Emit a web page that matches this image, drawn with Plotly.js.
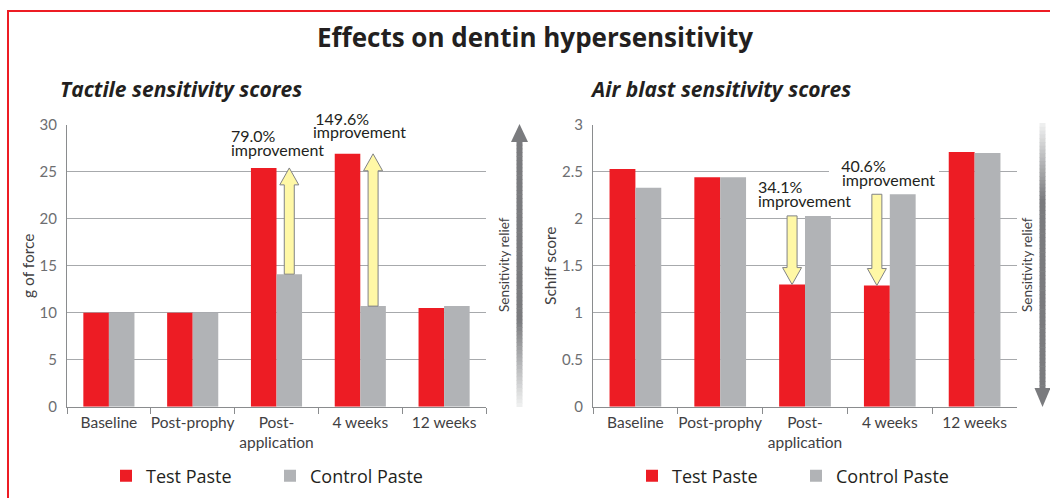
<!DOCTYPE html>
<html><head><meta charset="utf-8">
<script src="https://cdn.plot.ly/plotly-3.0.1.min.js"></script>
<style>html,body{margin:0;padding:0;background:#fff}#chart{width:1050px;height:498px}</style>
</head><body><div id="chart"></div>
<script>
// ---- data ----
const categories = ['Baseline', 'Post-prophy', 'Post-<br>application', '4 weeks', '12 weeks'];
const tactileTest = [10, 10, 25.4, 26.9, 10.5];
const tactileControl = [10, 10, 14.1, 10.7, 10.7];
const airTest = [2.53, 2.44, 1.30, 1.29, 2.71];
const airControl = [2.33, 2.44, 2.03, 2.26, 2.70];
const improvedIdx = [2, 3];
const tactileImprovement = ['79.0%', '149.6%'];
const airImprovement = ['34.1%', '40.6%'];
const tactileTicks = [0, 5, 10, 15, 20, 25, 30];
const airTicks = [0, 0.5, 1, 1.5, 2, 2.5, 3];
const seriesNames = ['Test Paste', 'Control Paste'];

// ---- style ----
const W = 1050, H = 498;
const px = x => x / W;
const py = y => 1 - y / H;
const RED = '#ED1C24', GRAY = '#B1B3B6', DARK = '#231F20';
const FONT = 'Lato, "Open Sans", sans-serif';
const WIDE = '"Open Sans", Lato, sans-serif';
const BARGAP = 0.39;
const barOff = (1 - BARGAP) / 4;
const L = [67, 486], R = [593, 1017], TOP = 124.7, BOT = 406.7;

const traces = [
  {type: 'bar', x: categories, y: tactileTest, name: seriesNames[0], marker: {color: RED}, xaxis: 'x', yaxis: 'y', legend: 'legend', hoverinfo: 'y'},
  {type: 'bar', x: categories, y: tactileControl, name: seriesNames[1], marker: {color: GRAY}, xaxis: 'x', yaxis: 'y', legend: 'legend', hoverinfo: 'y'},
  {type: 'bar', x: categories, y: airTest, name: seriesNames[0], marker: {color: RED}, xaxis: 'x2', yaxis: 'y2', legend: 'legend2', hoverinfo: 'y'},
  {type: 'bar', x: categories, y: airControl, name: seriesNames[1], marker: {color: GRAY}, xaxis: 'x2', yaxis: 'y2', legend: 'legend2', hoverinfo: 'y'}
];

const xCommon = {
  type: 'category', showgrid: false, showline: true, linecolor: '#8A8C8E', linewidth: 1,
  ticks: 'outside', tickson: 'boundaries', ticklen: 6, tickcolor: '#8A8C8E', tickangle: 0,
  ticklabelstandoff: 2,
  tickfont: {family: FONT, size: 15.5, color: '#414042'}, fixedrange: true, zeroline: false
};
const yCommon = {
  showgrid: true, gridcolor: '#A7A9AC', gridwidth: 1.3, showline: true, linecolor: '#8A8C8E', linewidth: 1,
  ticks: '', zeroline: false, tickfont: {family: FONT, size: 15, color: '#6D6E71'},
  ticklabelstandoff: 6, fixedrange: true
};
const yDom = [py(BOT), py(TOP)];

const shapes = [];
// red frame
shapes.push({type: 'rect', xref: 'paper', yref: 'paper', x0: px(8), y0: py(11), x1: 1.05, y1: -0.05,
  line: {color: RED, width: 2}, fillcolor: 'rgba(0,0,0,0)'});

// improvement arrows (yellow)
improvedIdx.forEach(i => {
  const b = tactileControl[i], t = tactileTest[i], hb = t - 1.8;
  shapes.push({type: 'path', xref: 'x', yref: 'y', xsizemode: 'pixel', xanchor: i + barOff,
    path: `M-5,${b} L5,${b} L5,${hb} L9.5,${hb} L0,${t} L-9.5,${hb} L-5,${hb} Z`,
    fillcolor: '#FFF8A6', line: {color: '#808285', width: 1}, layer: 'above'});
  const b2 = airControl[i], t2 = airTest[i], hb2 = t2 + 0.18;
  shapes.push({type: 'path', xref: 'x2', yref: 'y2', xsizemode: 'pixel', xanchor: i - barOff,
    path: `M-5,${b2} L5,${b2} L5,${hb2} L9.5,${hb2} L0,${t2} L-9.5,${hb2} L-5,${hb2} Z`,
    fillcolor: '#FFF8A6', line: {color: '#808285', width: 1}, layer: 'above'});
});

// gradient "sensitivity relief" arrows
function hex(c){return [parseInt(c.slice(1,3),16),parseInt(c.slice(3,5),16),parseInt(c.slice(5,7),16)];}
function mix(a, b, t){const A=hex(a),B=hex(b);return 'rgb('+A.map((v,k)=>Math.round(v+(B[k]-v)*t)).join(',')+')';}
function gradShaft(xc, y0, y1, colorAt){
  const n = 70, step = (y1 - y0) / n;
  for(let k = 0; k < n; k++){
    const ya = y0 + k * step, yb = ya + step + 0.6;
    shapes.push({type: 'rect', xref: 'paper', yref: 'paper', x0: px(xc - 3), x1: px(xc + 3),
      y0: py(ya), y1: py(Math.min(yb, y1)), fillcolor: colorAt(ya + step / 2), line: {width: 0}});
  }
}
const ARR = '#7A7B7E', LIGHT = '#F1F2F2';
// left (up)
gradShaft(519.5, 141, 407, y => y < 320 ? ARR : mix(ARR, LIGHT, Math.min(1, (y - 320) / 87)));
shapes.push({type: 'path', xref: 'paper', yref: 'paper',
  path: `M${px(511)},${py(142)} L${px(519.5)},${py(124)} L${px(528)},${py(142)} Z`, fillcolor: ARR, line: {width: 0}});
// right (down)
gradShaft(1042.5, 123, 389, y => y > 200 ? ARR : mix(LIGHT, ARR, Math.max(0, (y - 123) / 77)));
shapes.push({type: 'path', xref: 'paper', yref: 'paper',
  path: `M${px(1034.5)},${py(388)} L${px(1042.5)},${py(407)} L${px(1050.5)},${py(388)} Z`, fillcolor: ARR, line: {width: 0}});

const ann = (text, x, y, opts) => Object.assign({text, xref: 'paper', yref: 'paper', x: px(x), y: py(y),
  xanchor: 'left', yanchor: 'middle', align: 'left', showarrow: false, borderpad: 0, borderwidth: 0,
  font: {family: FONT, size: 16, color: DARK}}, opts || {});
// two-line label with tight line spacing (small base size sets the line height)
const tight = (a, b) => `<span style="font-size:16px">${a}</span><br><span style="font-size:16px">${b}</span>`;
const tightFont = {family: FONT, size: 11, color: DARK};
const sp = n => '&nbsp;'.repeat(n);

const annotations = [
  ann('<b><i>Tactile sensitivity scores</i></b>', 60, 89, {font: {family: WIDE, size: 21, color: DARK}}),
  ann('<b><i>Air blast sensitivity scores</i></b>', 590, 89, {font: {family: WIDE, size: 21, color: DARK}}),
  // percentage lines that sit on a gridline get a white box (drawn first)
  ann(sp(3) + tactileImprovement[1] + sp(12), 303, 118, {bgcolor: '#fff'}),
  ann(sp(3) + airImprovement[1] + sp(13), 829, 165, {bgcolor: '#fff'}),
  ann('improvement', 313, 132),
  ann('improvement', 842, 179),
  ann(tight(tactileImprovement[0], 'improvement'), 231, 142, {font: tightFont}),
  ann(tight(airImprovement[0], 'improvement'), 758, 194, {font: tightFont}),
  ann('Sensitivity relief', 504, 265, {xanchor: 'center', textangle: -90, font: {family: FONT, size: 13.5, color: '#414042'}}),
  ann('Sensitivity relief', 1027, 265, {xanchor: 'center', textangle: -90, font: {family: FONT, size: 13.5, color: '#414042'}})
];

const legendCommon = {orientation: 'h', xanchor: 'left', yanchor: 'middle', traceorder: 'normal',
  font: {family: WIDE, size: 18, color: DARK}, entrywidth: 119, bgcolor: 'rgba(0,0,0,0)', itemclick: false, itemdoubleclick: false};

const layout = {
  width: W, height: H, margin: {l: 0, r: 0, t: 0, b: 0},
  paper_bgcolor: '#fff', plot_bgcolor: '#fff',
  font: {family: FONT},
  title: {text: '<b>Effects on dentin hypersensitivity</b>', font: {family: WIDE, size: 26, color: DARK},
    x: px(535), xanchor: 'center', xref: 'paper', y: py(38), yanchor: 'middle', yref: 'paper'},
  barmode: 'group', bargap: BARGAP, bargroupgap: 0,
  xaxis: Object.assign({}, xCommon, {domain: [px(L[0]), px(L[1])], anchor: 'y'}),
  yaxis: Object.assign({}, yCommon, {domain: yDom, anchor: 'x', range: [0, 30], tickvals: tactileTicks,
    title: {text: 'g of force', font: {family: FONT, size: 15.5, color: '#414042'}, standoff: 1}}),
  xaxis2: Object.assign({}, xCommon, {domain: [px(R[0]), px(R[1])], anchor: 'y2'}),
  yaxis2: Object.assign({}, yCommon, {domain: yDom, anchor: 'x2', range: [0, 3], tickvals: airTicks,
    ticktext: airTicks.map(String),
    title: {text: 'Schiff score', font: {family: FONT, size: 15.5, color: '#414042'}, standoff: 1}}),
  legend: Object.assign({}, legendCommon, {x: px(106), y: py(476)}),
  legend2: Object.assign({}, legendCommon, {x: px(632), y: py(476)}),
  shapes, annotations
};

Plotly.newPlot('chart', traces, layout, {displayModeBar: false});
</script>
</body></html>
